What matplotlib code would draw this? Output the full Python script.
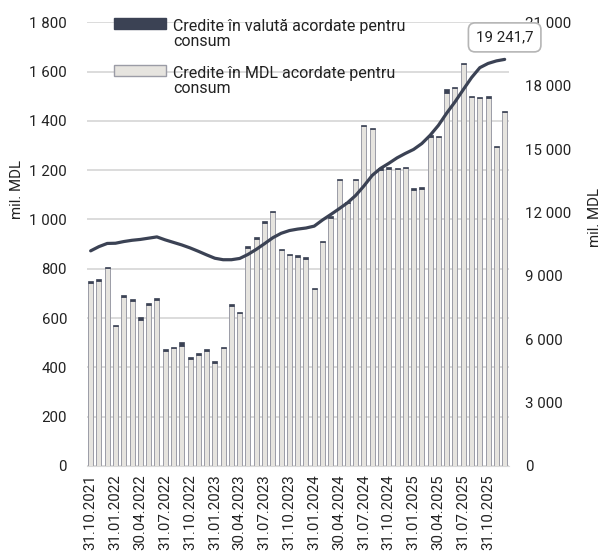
import matplotlib
matplotlib.use("Agg")
import matplotlib.pyplot as plt
from matplotlib.patches import Patch, Rectangle
from matplotlib.legend_handler import HandlerPatch
from matplotlib.ticker import FuncFormatter
import pandas as pd

plt.rcParams["font.family"] = ["Roboto", "DejaVu Sans"]
plt.rcParams["font.size"] = 10.8

# monthly dates, 31.10.2021 .. 31.12.2025
dates = pd.date_range("2021-10-31", "2025-12-31", freq="ME")
date_labels = [d.strftime("%d.%m.%Y") for d in dates]

# total monthly new consumer loans (mil. MDL), left axis
total_loans = [751, 757, 808, 572, 692, 676, 603, 660, 682, 473,
               484, 501, 441, 457, 474, 424, 484, 656, 626, 892,
               927, 992, 1035, 881, 861, 854, 847, 723, 912, 1012,
               1166, 1072, 1165, 1384, 1372, 1207, 1212, 1209, 1214, 1126,
               1130, 1342, 1339, 1531, 1539, 1634, 1501, 1497, 1499, 1297,
               1440]
# foreign-currency part (small dark cap on each bar)
valuta = [8, 7, 6, 5, 7, 8, 9, 6, 7, 6,
          7, 16, 6, 7, 6, 6, 5, 6, 5, 6,
          5, 5, 5, 5, 5, 5, 6, 5, 5, 5,
          5, 5, 5, 5, 5, 5, 6, 6, 7, 6,
          5, 6, 5, 17, 6, 5, 5, 5, 5, 5,
          5]
mdl = [t - v for t, v in zip(total_loans, valuta)]

# stock of consumer loans (mil. MDL), right axis
stock = [10180, 10380, 10530, 10540, 10620, 10680, 10720, 10780, 10840, 10700,
         10580, 10460, 10320, 10160, 9990, 9830, 9760, 9760, 9820, 10010,
         10250, 10520, 10800, 11010, 11140, 11210, 11260, 11350, 11640, 11900,
         12170, 12450, 12800, 13250, 13750, 14080, 14320, 14580, 14790, 14980,
         15260, 15650, 16120, 16700, 17230, 17810, 18380, 18850, 19050, 19170,
         19241.7]

DARK = "#3b4254"
LIGHT = "#e6e4df"
EDGE = "#9b9ca6"
GRID = "#d9d9d9"
TXT = "#222222"


def space_fmt(v, pos):
    return f"{int(round(v)):,}".replace(",", " ")


def raised_patch(legend, orig_handle, xdescent, ydescent, width, height, fontsize):
    # lift the legend swatch so it sits next to the first line of a 2-line label
    return Rectangle((-xdescent, -ydescent + 0.66 * fontsize), width, height)


fig = plt.figure(figsize=(6.05, 5.56), dpi=100)
ax = fig.add_axes([0.143, 0.162, 0.698, 0.798])
ax2 = ax.twinx()

x = list(range(len(dates)))
ax.bar(x, mdl, width=0.6, color=LIGHT, edgecolor=EDGE, linewidth=0.7, zorder=2)
ax.bar(x, valuta, bottom=mdl, width=0.6, color=DARK, edgecolor=DARK,
       linewidth=0.5, zorder=2)

ax2.plot(x, stock, color=DARK, lw=2.3, solid_capstyle="round", zorder=3)
ax2.annotate("19 241,7", xy=(x[-1], stock[-1]), xytext=(0, 22),
             textcoords="offset pixels", ha="center", va="center",
             fontsize=10.8, color=TXT,
             bbox=dict(boxstyle="round,pad=0.5,rounding_size=0.45",
                       fc="white", ec="#b5b5b5", lw=1.2))

ax.set_xlim(-0.5, len(x) - 0.5)
ax.set_ylim(0, 1800)
ax2.set_ylim(0, 21000)
ax.set_yticks(range(0, 1801, 200))
ax2.set_yticks(range(0, 21001, 3000))
ax.yaxis.set_major_formatter(FuncFormatter(space_fmt))
ax2.yaxis.set_major_formatter(FuncFormatter(space_fmt))

ax.set_xticks(x[::3])
ax.set_xticklabels(date_labels[::3], rotation=90)

ax.grid(True, axis="y", color=GRID, lw=1.3, zorder=0)
ax.set_axisbelow(True)
for a in (ax, ax2):
    for s in ("top", "left", "right"):
        a.spines[s].set_visible(False)
    a.spines["bottom"].set_color(GRID)
ax2.spines["bottom"].set_visible(False)
ax.tick_params(axis="y", length=0, pad=14, labelcolor=TXT)
ax2.tick_params(axis="y", length=0, pad=12, labelcolor=TXT)
ax.tick_params(axis="x", length=0, pad=6, labelcolor=TXT)

ax.set_ylabel("mil. MDL", fontsize=10.8, color=TXT)
ax2.set_ylabel("mil. MDL", fontsize=10.8, color=TXT)
ax.yaxis.set_label_coords(-0.148, 0.622)
ax2.yaxis.set_label_coords(1.187, 0.559)

handles = [Patch(facecolor=DARK, edgecolor=DARK,
                 label="Credite în valută acordate pentru\nconsum"),
           Patch(facecolor=LIGHT, edgecolor=EDGE,
                 label="Credite în MDL acordate pentru\nconsum")]
hmap = {h: HandlerPatch(patch_func=raised_patch) for h in handles}
leg = ax.legend(handles=handles, handler_map=hmap, loc="upper left",
                bbox_to_anchor=(0.03, 1.04), frameon=False,
                handlelength=3.3, handletextpad=0.45, labelspacing=1.05,
                fontsize=11.5)
for t in leg.get_texts():
    t.set_linespacing(1.0)
    t.set_color(TXT)

fig.savefig("out.png", dpi=100)
